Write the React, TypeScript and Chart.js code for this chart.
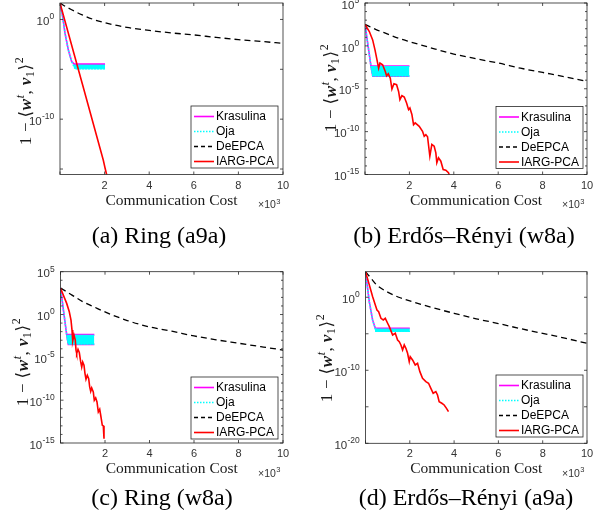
import React, { useEffect, useRef } from 'react';
import { Chart, registerables } from 'chart.js';

Chart.register(...registerables);

const W = 602;
const H = 526;
const SANS = '"Liberation Sans", Arial, Helvetica, sans-serif';
const SERIF = '"Liberation Serif", "Times New Roman", serif';
const AXIS = '#262626';

// ---- shared labels ----
const SERIES_LABELS = ['Krasulina', 'Oja', 'DeEPCA', 'IARG-PCA'];
const X_TICK_VALUES = [0, 2000, 4000, 6000, 8000, 10000];
const X_TICK_LABELS = ['', '2', '4', '6', '8', '10'];
const X_TITLE = 'Communication Cost';
const X_MULT_BASE = '\u00D710';
const X_MULT_EXP = '3';
const CAPTIONS = ['(a) Ring (a9a)', '(b) Erdős–Rényi (w8a)', '(c) Ring (w8a)', '(d) Erdős–Rényi (a9a)'];

// y values are stored as log10 of 1 - <w^t, v_1>^2

// ---- (a) Ring (a9a) ----
const aKrasX = [0, 120, 224, 372, 525, 640, 2020];
const aKrasLog = [1.65, 0.28, -1.38, -3.05, -4.22, -4.48, -4.48];
const aKrasEdgeX: number[] = [];
const aKrasEdgeLog: number[] = [];
const aOjaX = [0, 120, 224, 372, 525, 673, 2020];
const aOjaLog = [1.65, 0.28, -1.38, -3.05, -4.22, -4.95, -4.95];
const aBandX = [600, 680, 2020];
const aBandHiLog = [-4.58, -4.58, -4.58];
const aBandLoLog = [-4.6, -4.95, -4.95];
const aDeX = [0, 250, 500, 1000, 1500, 2000, 3000, 4000, 5000, 6000, 7000, 8000, 9000, 10000];
const aDeLog = [1.65, 1.3, 1.0, 0.45, 0.0, -0.33, -0.8, -1.1, -1.35, -1.55, -1.8, -2.02, -2.2, -2.4];
const aRedX = [0, 1000, 1940, 2020, 2095];
const aRedLog = [1.65, -6.45, -14.1, -14.9, -15.6];

// ---- (b) Erdős–Rényi (w8a) ----
const bKrasX = [0, 270, 350, 2000];
const bKrasLog = [2.5, -2.4, -3.55, -3.55];
const bKrasEdgeX = [270, 2000];
const bKrasEdgeLog = [-2.35, -2.35];
const bOjaX = [0, 270, 350, 2000];
const bOjaLog = [2.5, -2.4, -3.5, -3.5];
const bBandX = [270, 350, 2000];
const bBandHiLog = [-2.4, -2.4, -2.4];
const bBandLoLog = [-2.4, -3.5, -3.5];
const bDeX = [0, 500, 1000, 1500, 2000, 3000, 4000, 5000, 6000, 7000, 8000, 9000, 10000];
const bDeLog = [2.5, 1.9, 1.4, 0.9, 0.5, -0.25, -0.95, -1.5, -2.0, -2.6, -3.1, -3.6, -4.15];
const bRedX = [0, 195, 345, 450, 540, 614, 674, 794, 914, 974, 1049, 1139, 1213, 1303, 1423, 1513, 1573, 1663, 1768, 1873, 1963, 2022, 2112, 2187, 2262, 2442, 2592, 2667, 2742, 2817, 2921, 3011, 3116, 3191, 3236, 3311, 3416, 3521, 3640, 3760, 3830];
const bRedLog = [2.5, 1.67, 0.7, -0.47, -1.63, -2.6, -2.0, -2.2, -2.99, -3.49, -3.26, -3.76, -5.04, -4.42, -4.53, -5.31, -6.28, -5.81, -5.97, -6.66, -7.44, -7.25, -8.0, -9.19, -8.99, -9.38, -9.97, -10.55, -10.35, -10.6, -12.87, -11.5, -11.7, -12.48, -13.64, -13.06, -13.45, -14.42, -14.5, -14.8, -15.3];

// ---- (c) Ring (w8a) ----
const cKrasX = [0, 280, 350, 1520];
const cKrasLog = [3.1, -2.4, -3.5, -3.5];
const cKrasEdgeX = [280, 1520];
const cKrasEdgeLog = [-2.35, -2.35];
const cOjaX = [0, 280, 350, 1520];
const cOjaLog = [3.1, -2.4, -3.45, -3.45];
const cBandX = [280, 350, 1520];
const cBandHiLog = [-2.42, -2.42, -2.42];
const cBandLoLog = [-2.42, -3.45, -3.45];
const cDeX = [0, 500, 1000, 1500, 2000, 3000, 4000, 5000, 6000, 7000, 8000, 9000, 10000];
const cDeLog = [3.1, 2.3, 1.5, 0.9, 0.3, -0.7, -1.45, -1.95, -2.5, -2.95, -3.35, -3.75, -4.15];
const cRedX = [0, 127, 278, 395, 472, 517, 548, 607, 665, 697, 728, 787, 845, 908, 953, 998, 1056, 1101, 1146, 1205, 1267, 1312, 1357, 1402, 1474, 1519, 1582, 1640, 1699, 1762, 1807, 1879, 1924, 1955];
const cRedLog = [3.1, 2.27, 1.3, 0.32, -0.65, -1.82, -3.11, -2.41, -2.99, -4.16, -4.55, -4.06, -4.44, -5.54, -6.13, -5.54, -5.92, -6.89, -7.55, -7.09, -7.48, -8.45, -8.96, -8.57, -9.04, -10.01, -9.74, -10.2, -11.37, -11.06, -11.76, -12.93, -13.0, -14.5];

// ---- (d) Erdős–Rényi (a9a) ----
const dKrasX = [0, 170, 320, 440, 580, 2000];
const dKrasLog = [3.5, -0.6, -3.1, -4.2, -4.25, -4.25];
const dKrasEdgeX: number[] = [];
const dKrasEdgeLog: number[] = [];
const dOjaX = [0, 170, 320, 470, 2000];
const dOjaLog = [3.5, -0.6, -3.1, -4.65, -4.65];
const dBandX = [440, 470, 2000];
const dBandHiLog = [-4.35, -4.35, -4.35];
const dBandLoLog = [-4.35, -4.68, -4.68];
const dDeX = [0, 250, 500, 1000, 1500, 2000, 3000, 4000, 5000, 6000, 7000, 8000, 9000, 10000];
const dDeLog = [3.5, 2.6, 1.7, 0.7, 0.0, -0.5, -1.4, -2.2, -2.95, -3.6, -4.3, -4.95, -5.6, -6.3];
const dRedX = [0, 173, 323, 443, 518, 593, 698, 803, 893, 999, 1074, 1224, 1344, 1449, 1524, 1599, 1674, 1749, 1824, 1900, 1975, 2020, 2125, 2245, 2350, 2455, 2575, 2725, 2846, 2951, 3056, 3176, 3251, 3326, 3446, 3551, 3657, 3747];
const dRedLog = [3.5, 1.68, 0.08, -1.05, -1.74, -1.97, -2.88, -3.1, -2.88, -3.56, -4.03, -5.16, -4.93, -5.85, -6.08, -6.53, -7.22, -6.53, -6.99, -7.67, -8.82, -8.14, -8.59, -9.27, -9.04, -10.19, -11.1, -11.56, -11.78, -12.47, -13.15, -12.93, -13.38, -14.3, -14.52, -14.75, -15.21, -15.67];

// ---- y-axis ticks (exponents) ----
const aYTickExp = [-15, -10, -5, 0];
const aYLabelExp = [-10, 0];
const bYTickExp = [-15, -10, -5, 0, 5];
const bYLabelExp = [-15, -10, -5, 0, 5];
const cYTickExp = [-15, -10, -5, 0, 5];
const cYLabelExp = [-15, -10, -5, 0, 5];
const dYTickExp = [-20, -15, -10, -5, 0];
const dYLabelExp = [-20, -10, 0];

const PANEL_DATA = [
  { krasX: aKrasX, krasLog: aKrasLog, edgeX: aKrasEdgeX, edgeLog: aKrasEdgeLog, ojaX: aOjaX, ojaLog: aOjaLog, bandX: aBandX, bandHi: aBandHiLog, bandLo: aBandLoLog, deX: aDeX, deLog: aDeLog, redX: aRedX, redLog: aRedLog, yTicks: aYTickExp, yLabels: aYLabelExp },
  { krasX: bKrasX, krasLog: bKrasLog, edgeX: bKrasEdgeX, edgeLog: bKrasEdgeLog, ojaX: bOjaX, ojaLog: bOjaLog, bandX: bBandX, bandHi: bBandHiLog, bandLo: bBandLoLog, deX: bDeX, deLog: bDeLog, redX: bRedX, redLog: bRedLog, yTicks: bYTickExp, yLabels: bYLabelExp },
  { krasX: cKrasX, krasLog: cKrasLog, edgeX: cKrasEdgeX, edgeLog: cKrasEdgeLog, ojaX: cOjaX, ojaLog: cOjaLog, bandX: cBandX, bandHi: cBandHiLog, bandLo: cBandLoLog, deX: cDeX, deLog: cDeLog, redX: cRedX, redLog: cRedLog, yTicks: cYTickExp, yLabels: cYLabelExp },
  { krasX: dKrasX, krasLog: dKrasLog, edgeX: dKrasEdgeX, edgeLog: dKrasEdgeLog, ojaX: dOjaX, ojaLog: dOjaLog, bandX: dBandX, bandHi: dBandHiLog, bandLo: dBandLoLog, deX: dDeX, deLog: dDeLog, redX: dRedX, redLog: dRedLog, yTicks: dYTickExp, yLabels: dYLabelExp },
];

// ---- layout (page coordinates) ----
const LAYOUT = [
  { area: { l: 60, r: 283, t: 3, b: 174.5 }, yMin: -15.55, yMax: 1.65, minor: false, yTitle: [25, 101], legend: [191, 106], caption: [159, 235] },
  { area: { l: 365, r: 587, t: 3, b: 174.5 }, yMin: -15, yMax: 5, minor: true, yTitle: [330, 88], legend: [496, 106.5], caption: [464, 235] },
  { area: { l: 60.5, r: 283, t: 271.7, b: 443 }, yMin: -15, yMax: 5, minor: true, yTitle: [22, 362], legend: [191, 377], caption: [162, 497] },
  { area: { l: 365.5, r: 587, t: 271.7, b: 443.3 }, yMin: -20, yMax: 3.5, minor: false, yTitle: [326, 358], legend: [496, 375], caption: [466, 497] },
];

const COLORS = { kras: '#ff00ff', oja: '#00ffff', de: '#000000', red: '#ff0000' };

function pts(xs: number[], logs: number[]) {
  return xs.map((x, i) => ({ x, y: Math.pow(10, logs[i]) }));
}

function drawPow(ctx: CanvasRenderingContext2D, xRight: number, y: number, exp: number) {
  const base = '10';
  const e = String(exp);
  ctx.font = `11.5px ${SANS}`;
  const wb = ctx.measureText(base).width;
  ctx.font = `8.5px ${SANS}`;
  const we = ctx.measureText(e).width;
  const x0 = xRight - wb - we;
  ctx.textAlign = 'left';
  ctx.textBaseline = 'middle';
  ctx.font = `11.5px ${SANS}`;
  ctx.fillText(base, x0, y + 2.5);
  ctx.font = `8.5px ${SANS}`;
  ctx.fillText(e, x0 + wb + 0.3, y - 2.5);
}

function drawYTitle(ctx: CanvasRenderingContext2D, cx: number, cy: number) {
  const big = 17;
  const small = 12;
  const parts = [
    { t: '1', f: `${big}px ${SERIF}`, dy: 0 },
    { t: ' \u2212 ', f: `${big}px ${SERIF}`, dy: 0 },
    { t: '\u27E8', f: `${big}px "DejaVu Serif", ${SERIF}`, dy: 0 },
    { t: 'w', f: `italic bold ${big}px ${SERIF}`, dy: 0 },
    { t: 't', f: `italic ${small}px ${SERIF}`, dy: -7 },
    { t: ', ', f: `${big}px ${SERIF}`, dy: 0 },
    { t: 'v', f: `italic bold ${big}px ${SERIF}`, dy: 0 },
    { t: '1', f: `${small}px ${SERIF}`, dy: 3.5 },
    { t: '\u27E9', f: `${big}px "DejaVu Serif", ${SERIF}`, dy: 0 },
    { t: '2', f: `${small}px ${SERIF}`, dy: -8 },
  ];
  ctx.save();
  ctx.translate(cx, cy);
  ctx.rotate(-Math.PI / 2);
  let total = 0;
  const widths = parts.map((p) => {
    ctx.font = p.f;
    const w = ctx.measureText(p.t).width + 0.6;
    total += w;
    return w;
  });
  let x = -total / 2;
  ctx.fillStyle = '#1a1a1a';
  ctx.textAlign = 'left';
  ctx.textBaseline = 'alphabetic';
  parts.forEach((p, i) => {
    ctx.font = p.f;
    ctx.fillText(p.t, x, 5.5 + p.dy);
    x += widths[i];
  });
  ctx.restore();
}

function drawDecor(chart: Chart, idx: number) {
  const L = LAYOUT[idx];
  const D = PANEL_DATA[idx];
  const ctx = chart.ctx;
  const xs = chart.scales.x;
  const ys = chart.scales.y;
  const { left, right, top, bottom } = chart.chartArea;
  ctx.save();
  ctx.strokeStyle = AXIS;
  ctx.lineWidth = 0.8;
  ctx.setLineDash([]);
  ctx.strokeRect(left, top, right - left, bottom - top);

  const seg = (x1: number, y1: number, x2: number, y2: number) => {
    ctx.beginPath();
    ctx.moveTo(x1, y1);
    ctx.lineTo(x2, y2);
    ctx.stroke();
  };

  // x ticks and labels
  ctx.fillStyle = '#333333';
  X_TICK_VALUES.forEach((v, i) => {
    const px = xs.getPixelForValue(v);
    seg(px, bottom, px, bottom - 3);
    seg(px, top, px, top + 3);
    ctx.font = `11px ${SANS}`;
    ctx.textAlign = 'center';
    ctx.textBaseline = 'middle';
    ctx.fillText(X_TICK_LABELS[i], px, bottom + 11);
  });

  // y ticks
  for (let e = Math.ceil(L.yMin); e <= Math.floor(L.yMax); e++) {
    const major = D.yTicks.includes(e);
    if (!major && !L.minor) continue;
    const py = ys.getPixelForValue(Math.pow(10, e));
    const len = major ? 3 : 2;
    seg(left, py, left + len, py);
    seg(right, py, right - len, py);
  }
  D.yLabels.forEach((e) => {
    const py = ys.getPixelForValue(Math.pow(10, e));
    drawPow(ctx, left - 6, py, e);
  });

  // x title and multiplier
  ctx.fillStyle = '#1a1a1a';
  ctx.font = `15.5px ${SERIF}`;
  ctx.textAlign = 'center';
  ctx.textBaseline = 'middle';
  ctx.fillText(X_TITLE, (left + right) / 2, bottom + 26);
  ctx.fillStyle = '#333333';
  ctx.font = `10.5px ${SANS}`;
  ctx.textAlign = 'left';
  const mw = ctx.measureText(X_MULT_BASE).width;
  const mx = right - 25;
  ctx.fillText(X_MULT_BASE, mx, bottom + 31);
  ctx.font = `7.5px ${SANS}`;
  ctx.fillText(X_MULT_EXP, mx + mw + 0.5, bottom + 27);

  drawYTitle(ctx, L.yTitle[0], L.yTitle[1]);

  // legend
  const bx = L.legend[0];
  const by = L.legend[1];
  const bw = 87;
  const bh = 62;
  ctx.fillStyle = '#ffffff';
  ctx.fillRect(bx, by, bw, bh);
  ctx.strokeStyle = AXIS;
  ctx.lineWidth = 0.8;
  ctx.strokeRect(bx, by, bw, bh);
  const styles = [
    { c: COLORS.kras, d: [] as number[], w: 1.6 },
    { c: COLORS.oja, d: [1.5, 1.5], w: 1.6 },
    { c: COLORS.de, d: [4, 3], w: 1.3 },
    { c: COLORS.red, d: [] as number[], w: 1.6 },
  ];
  SERIES_LABELS.forEach((lab, i) => {
    const y = by + 10.5 + i * 15;
    ctx.strokeStyle = styles[i].c;
    ctx.lineWidth = styles[i].w;
    ctx.setLineDash(styles[i].d);
    seg(bx + 3, y, bx + 23, y);
    ctx.setLineDash([]);
    ctx.fillStyle = '#000000';
    ctx.font = `12px ${SANS}`;
    ctx.textAlign = 'left';
    ctx.textBaseline = 'middle';
    ctx.fillText(lab, bx + 25, y + 0.5);
  });
  ctx.restore();
}

function makeChart(canvas: HTMLCanvasElement, idx: number) {
  const L = LAYOUT[idx];
  const D = PANEL_DATA[idx];
  const line = { pointRadius: 0, pointHoverRadius: 0, tension: 0, fill: false };
  const datasets: any[] = [
    { ...line, label: SERIES_LABELS[3], data: pts(D.redX, D.redLog), borderColor: COLORS.red, borderWidth: 1.6 },
    { ...line, label: SERIES_LABELS[2], data: pts(D.deX, D.deLog), borderColor: COLORS.de, borderWidth: 1.3, borderDash: [6, 4], cubicInterpolationMode: 'monotone' },
    { ...line, label: SERIES_LABELS[1], data: pts(D.ojaX, D.ojaLog), borderColor: COLORS.oja, borderWidth: 1.6, borderDash: [1.5, 1.5] },
    { ...line, label: 'Oja band top', data: pts(D.bandX, D.bandHi), borderColor: COLORS.oja, borderWidth: 1, backgroundColor: COLORS.oja, fill: '+1' },
    { ...line, label: 'Oja band bottom', data: pts(D.bandX, D.bandLo), borderColor: COLORS.oja, borderWidth: 1 },
    { ...line, label: SERIES_LABELS[0], data: pts(D.krasX, D.krasLog), borderColor: COLORS.kras, borderWidth: 1.6 },
    { ...line, label: 'Krasulina edge', data: pts(D.edgeX, D.edgeLog), borderColor: COLORS.kras, borderWidth: 1.6 },
  ];
  return new Chart(canvas, {
    type: 'line',
    data: { datasets },
    options: {
      animation: false,
      responsive: false,
      maintainAspectRatio: false,
      devicePixelRatio: 1,
      parsing: false,
      normalized: true,
      events: [],
      layout: { padding: { left: L.area.l, right: W - L.area.r, top: L.area.t, bottom: H - L.area.b } },
      plugins: { legend: { display: false }, tooltip: { enabled: false }, title: { display: false } },
      scales: {
        x: { type: 'linear', display: false, min: 0, max: 10000 },
        y: { type: 'logarithmic', display: false, bounds: 'data', min: Math.pow(10, L.yMin), max: Math.pow(10, L.yMax) },
      },
    },
    plugins: [{ id: 'decor' + idx, afterDraw: (c: Chart) => drawDecor(c, idx) }],
  } as any);
}

function Panel({ idx }: { idx: number }) {
  const ref = useRef<HTMLCanvasElement>(null);
  useEffect(() => {
    const chart = makeChart(ref.current as HTMLCanvasElement, idx);
    return () => chart.destroy();
  }, [idx]);
  return (
    <canvas
      ref={ref}
      width={W}
      height={H}
      style={{ position: 'absolute', left: 0, top: 0, width: W, height: H }}
    />
  );
}

export default function App() {
  return (
    <div style={{ position: 'absolute', left: 0, top: 0, width: W, height: H, background: '#ffffff', overflow: 'hidden' }}>
      {[0, 1, 2, 3].map((i) => (
        <Panel key={i} idx={i} />
      ))}
      {CAPTIONS.map((c, i) => (
        <div
          key={c}
          style={{
            position: 'absolute',
            left: LAYOUT[i].caption[0],
            top: LAYOUT[i].caption[1],
            transform: 'translate(-50%, -50%)',
            font: `24px ${SERIF}`,
            color: '#000',
            whiteSpace: 'nowrap',
            lineHeight: 1,
          }}
        >
          {c}
        </div>
      ))}
    </div>
  );
}
